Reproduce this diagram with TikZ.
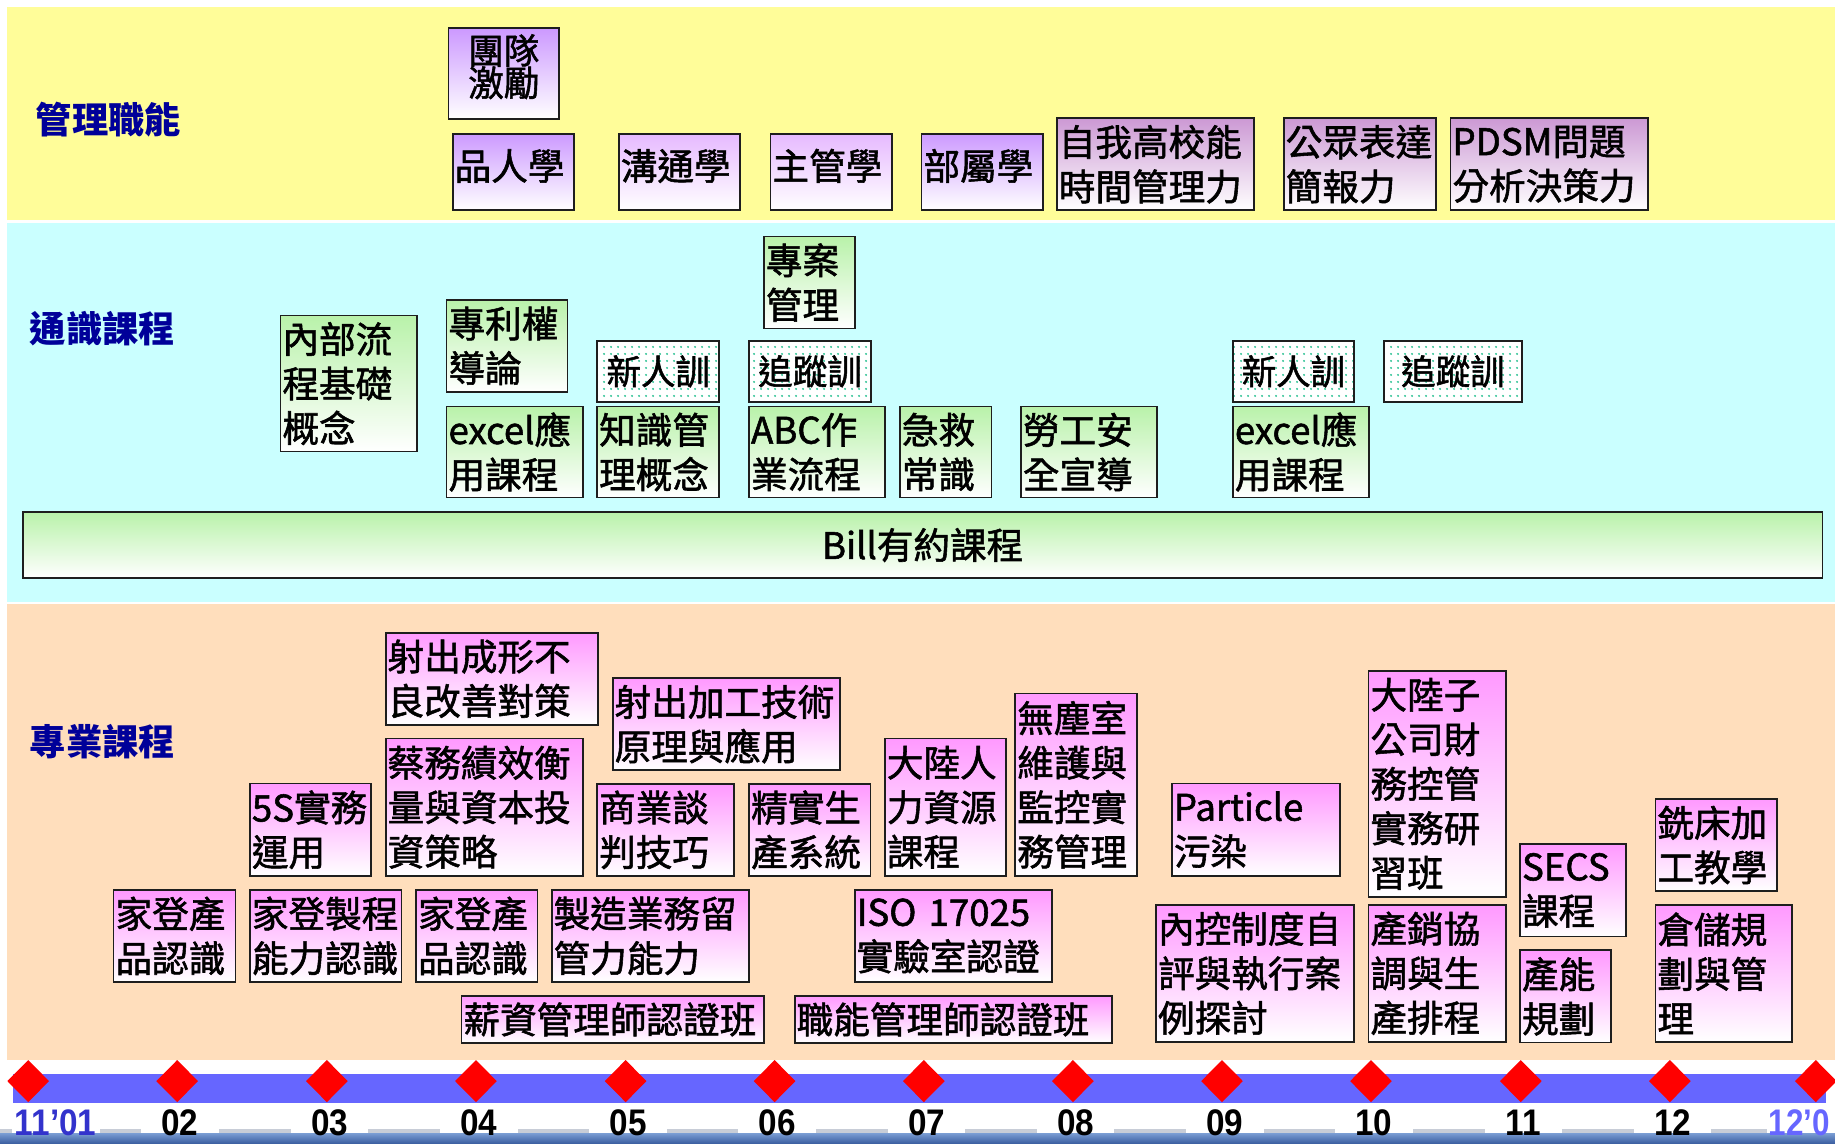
\documentclass[tikz,border=0pt]{standalone}
\usepackage{fontspec}
\usepackage{graphicx}
\setmainfont{Noto Sans CJK TC}
\newfontfamily\boxfont[FakeBold=1.5]{Noto Sans CJK TC}
\newfontfamily\numfont{Liberation Sans}
\usetikzlibrary{patterns.meta}

\definecolor{yel}{RGB}{255,253,153}
\definecolor{cyn}{RGB}{202,255,255}
\definecolor{pch}{RGB}{255,222,188}
\definecolor{navy}{RGB}{0,0,153}
\definecolor{boxline}{RGB}{30,30,30}
\definecolor{purA}{RGB}{204,153,255}
\definecolor{purL}{RGB}{230,185,255}
\definecolor{purB}{RGB}{204,153,212}
\definecolor{grn}{RGB}{185,242,170}
\definecolor{pnk}{RGB}{255,153,255}
\definecolor{dotc}{RGB}{30,190,140}
\definecolor{barblue}{RGB}{102,102,255}
\definecolor{dred}{RGB}{255,0,0}
\definecolor{tlblue}{RGB}{51,51,204}
\definecolor{tllight}{RGB}{102,102,255}
\definecolor{gline}{RGB}{200,205,215}
\definecolor{stripA}{RGB}{120,155,210}
\definecolor{stripB}{RGB}{60,95,160}

\newcommand\fsmain{\boxfont\fontsize{36.6pt}{44.5pt}\selectfont}
\newcommand\fsdot{\boxfont\fontsize{34.5pt}{40pt}\selectfont}
\newcommand\fsteam{\boxfont\fontsize{35.5pt}{32.2pt}\selectfont\lineskiplimit=-50pt\relax}
\newcommand\fslab{\fontsize{36.3pt}{40pt}\selectfont\bfseries}
\newcommand\fsnum{\numfont\bfseries\fontsize{37pt}{40pt}\selectfont}

% name, x1, y1, x2, y2, style, text
\newcommand\coursebox[7]{%
  \pgfmathsetlengthmacro\cbw{(#4-#2)*1.1703pt}%
  \pgfmathsetlengthmacro\cbh{(#5-#3)*1.1703pt}%
  \pgfmathsetlengthmacro\cbt{(#4-#2)*1.1703pt-4pt}%
  \node[#6, anchor=north west, minimum width=\cbw, minimum height=\cbh, text width=\cbt] (#1) at (#2,#3) {#7};}

\begin{document}
\begin{tikzpicture}[x=1.1703pt,y=-1.1703pt,
  cbase/.style={draw=boxline, line width=1.8pt, inner xsep=2pt, inner ysep=0pt, align=left, font=\fsmain},
  pA/.style={cbase, top color=purA, bottom color=white},
  pL/.style={cbase, top color=purL, bottom color=white},
  pB/.style={cbase, top color=purB, bottom color=white},
  lift/.style={text height=32pt, text depth=15.7pt},
  gbox/.style={cbase, top color=grn, bottom color=white},
  kbox/.style={cbase, top color=pnk, bottom color=white},
  dotbox/.style={cbase, align=center, font=\fsdot, preaction={fill=white},
     pattern={Dots[distance=6.5pt,radius=1.1pt]}, pattern color=dotc},
  teambox/.style={pA, align=center, font=\fsteam, text depth=49pt},
  rowlab/.style={anchor=west, inner sep=0pt, font=\fslab, text=navy},
  tlab/.style={inner sep=0pt, font=\fsnum}
]
\useasboundingbox (0,0) rectangle (1568,977);
\fill[white] (0,0) rectangle (1568,977);

% bands
\fill[yel] (6.1,6.3) rectangle (1568,188);
\fill[cyn] (6.1,190.8) rectangle (1568,514.8);
\fill[pch] (6.1,515.8) rectangle (1568,905.8);

% row labels
\node[rowlab] (lab1) at (30.4,101.8) {管理職能};
\node[rowlab] (lab2) at (25.3,281) {通識課程};
\node[rowlab] (lab3) at (25.3,634) {專業課程};

% management
\coursebox{tm}{382.5}{23.4}{477}{101}{teambox}{團隊\\激勵}
\coursebox{pr}{386}{113.4}{490}{178.6}{pA,lift}{品人學}
\coursebox{gt}{528}{113.4}{631.7}{178.6}{pL,lift}{溝通學}
\coursebox{zg}{657.6}{113.4}{761.4}{178.6}{pL,lift}{主管學}
\coursebox{bs}{786.6}{113.4}{890.4}{178.6}{pA,lift}{部屬學}
\coursebox{zw}{902.3}{100.3}{1070.6}{178.9}{pB}{自我高校能\\時間管理力}
\coursebox{gz}{1096.2}{100.3}{1226.6}{178.9}{pB}{公眾表達\\簡報力}
\coursebox{pd}{1238.7}{100.3}{1407.4}{178.9}{pB}{PDSM問題\\分析決策力}

% general
\coursebox{nb}{238.9}{268.9}{355.5}{385.1}{gbox}{內部流\\程基礎\\概念}
\coursebox{zl}{380.8}{255.5}{484.2}{334.1}{gbox}{專利權\\導論}
\coursebox{exa}{380.8}{346.6}{497.4}{424.4}{gbox}{excel應\\用課程}
\coursebox{xra}{509.5}{290.5}{613.8}{342.6}{dotbox}{新人訓}
\coursebox{zs}{509.5}{346.6}{613.8}{424.4}{gbox}{知識管\\理概念}
\coursebox{za}{652}{201.4}{730}{280}{gbox}{專案\\管理}
\coursebox{zza}{639.3}{290.5}{743.5}{342.6}{dotbox}{追蹤訓}
\coursebox{abc}{639.3}{346.6}{755.4}{424.4}{gbox}{ABC作\\業流程}
\coursebox{jj}{768.2}{346.6}{846.5}{424.4}{gbox}{急救\\常識}
\coursebox{lg}{871.6}{346.6}{988}{424.4}{gbox}{勞工安\\全宣導}
\coursebox{xrb}{1052.7}{290.5}{1156.2}{342.6}{dotbox}{新人訓}
\coursebox{exb}{1052.7}{346.6}{1168.7}{424.4}{gbox}{excel應\\用課程}
\coursebox{zzb}{1181.8}{290.5}{1299.7}{342.6}{dotbox}{追蹤訓}
\coursebox{bill}{18.6}{436.7}{1556.6}{493.3}{gbox,align=center}{Bill有約課程}

% professional
\coursebox{sc}{328.8}{539.8}{510.2}{618.7}{kbox}{射出成形不\\良改善對策}
\coursebox{sj}{522.8}{578.8}{717.1}{657.4}{kbox}{射出加工技術\\原理與應用}
\coursebox{cw}{328.8}{630.3}{497.4}{747.7}{kbox}{蔡務績效衡\\量與資本投\\資策略}
\coursebox{sfive}{212.8}{668.8}{316.3}{747.7}{kbox}{5S實務\\運用}
\coursebox{sy}{509.5}{669}{626.6}{747.7}{kbox}{商業談\\判技巧}
\coursebox{js}{639.4}{669}{743.1}{747.7}{kbox}{精實生\\產系統}
\coursebox{dl}{755.3}{630.3}{859}{747.7}{kbox}{大陸人\\力資源\\課程}
\coursebox{wc}{866.8}{591.9}{970.8}{747.7}{kbox}{無塵室\\維護與\\監控實\\務管理}
\coursebox{pa}{1000.6}{668.8}{1143.9}{747.7}{kbox}{Particle\\污染}
\coursebox{dz}{1168.6}{572.5}{1285.8}{765.6}{kbox}{大陸子\\公司財\\務控管\\實務研\\習班}
\coursebox{secs}{1298.1}{720.6}{1388.8}{799.5}{kbox}{SECS\\課程}
\coursebox{xc}{1413.8}{682.2}{1517.6}{760.5}{kbox}{銑床加\\工教學}
\coursebox{jda}{96.3}{759.6}{200.4}{838.3}{kbox}{家登產\\品認識}
\coursebox{jdb}{212.8}{759.6}{342.3}{838.3}{kbox}{家登製程\\能力認識}
\coursebox{jdc}{354.8}{759.6}{458.5}{838.3}{kbox}{家登產\\品認識}
\coursebox{zy}{470.6}{759.6}{639.4}{838.3}{kbox}{製造業務留\\管力能力}
\coursebox{iso}{729.6}{759.6}{897.9}{838.3}{kbox}{ISO 17025\\實驗室認證}
\coursebox{nk}{987.1}{772.5}{1156.2}{889.3}{kbox}{內控制度自\\評與執行案\\例探討}
\coursebox{cx}{1168.6}{772.5}{1285.8}{889.3}{kbox}{產銷協\\調與生\\產排程}
\coursebox{cn}{1298.1}{811.2}{1375.8}{890.1}{kbox}{產能\\規劃}
\coursebox{cc}{1413.8}{772.5}{1530.6}{889.3}{kbox}{倉儲規\\劃與管\\理}
\coursebox{xz}{393.6}{850.2}{652.2}{890.4}{kbox}{薪資管理師認證班}
\coursebox{zn}{678.3}{850.2}{949.6}{890.4}{kbox}{職能管理師認證班}

% timeline
\fill[barblue] (11,917.7) rectangle (1560,942.2);
\foreach \dx in {24.1,151.4,279.3,406.7,534.6,661.9,789.4,916.8,1044.2,1171.5,1299.5,1426.9,1551.6}
  \fill[dred] (\dx,905.8) -- (\dx+17.8,923.8) -- (\dx,941.8) -- (\dx-17.8,923.8) -- cycle;

\fill[gline] (0,964.8) rectangle (1568,968.4);
\fill[white] (10,951) rectangle (85.3,968.5);
\fill[white] (1510,951) rectangle (1568,968.5);
\foreach \cx in {153.7,281.6,409,536.9,664.2,791.7,919.1,1046.5,1173.8,1301.8,1429.2}
  \fill[white] (\cx-33.2,951) rectangle (\cx+33.2,968.5);
\shade[top color=stripA, bottom color=stripB] (0,968.5) rectangle (1568,977);

\node[tlab, text=tlblue, anchor=base west] (m0) at (12.5,970.5) {\scalebox{0.9}[1]{11’01}};
\foreach \cx/\tx [count=\i] in {153.7/02,281.6/03,409/04,536.9/05,664.2/06,791.7/07,919.1/08,1046.5/09,1173.8/10,1301.8/11,1429.2/12}
  \node[tlab, anchor=base] (m\i) at (\cx,970.5) {\scalebox{0.9}[1]{\tx}};
\node[tlab, text=tllight, anchor=base west] (m12) at (1511,970.5) {\scalebox{0.85}[1]{12’0}};
\end{tikzpicture}
\end{document}
